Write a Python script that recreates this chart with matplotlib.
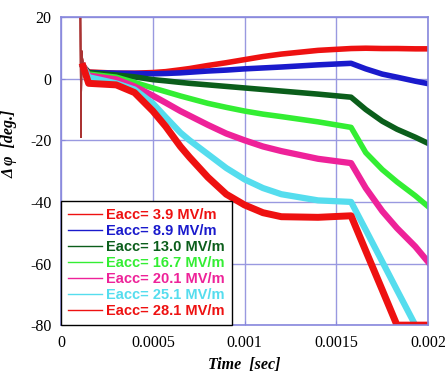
import matplotlib
matplotlib.use('Agg')
from matplotlib import pyplot as plt
import numpy as np

plt.rcParams['axes.unicode_minus'] = False

# time knots (sec)
t = [0.000105, 0.000108, 0.000112, 0.00012, 0.00015, 0.0003, 0.0004, 0.0005,
     0.00057, 0.00065, 0.0007, 0.0008, 0.0009, 0.001, 0.0011, 0.0012, 0.0014,
     0.00158, 0.00166, 0.00175, 0.00183, 0.00193, 0.002]

# phase shift (deg) for each Eacc
d_39 = [24, -19, 9, 4, 2.2, 1.8, 1.8, 2.0, 2.3, 2.9, 3.3, 4.3, 5.2, 6.2, 7.2, 8.0, 9.2,
        9.8, 9.9, 9.8, 9.8, 9.7, 9.7]
d_89 = [24, -19, 9, 4, 2.0, 1.8, 1.7, 1.6, 1.7, 1.9, 2.1, 2.5, 2.8, 3.2, 3.5, 3.8, 4.5,
        5.0, 3.2, 1.5, 0.5, -0.8, -1.6]
d_130 = [24, -19, 9, 4, 2.0, 1.2, 0.6, -0.3, -0.7, -1.2, -1.5, -2.0, -2.5, -3.0, -3.5, -4.0, -5.0,
         -6.0, -10, -13.8, -16.4, -19, -21]
d_167 = [24, -19, 9, 4, 1.5, 0.5, -1.2, -3.0, -4.2, -5.6, -6.4, -8.0, -9.3, -10.5, -11.5, -12.3, -14,
         -15.8, -24, -29.5, -33.5, -38, -41.5]
d_201 = [24, -19, 9, 4, 1.0, -0.2, -2.5, -5.5, -7.8, -10.5, -12.0, -15, -17.8, -20, -22, -23.5, -26,
         -27.4, -35.5, -43, -48.5, -54.5, -59.5]
d_251 = [24, -19, 9, 4, 0.5, -1.5, -3.5, -8.0, -12.5, -17.5, -20, -24.5, -29, -32.7, -35.5, -37.5, -39.5,
         -40, -49.1, -59.4, -68.6, -80, np.nan]
d_281 = [24, -19, 9, 4, -1.5, -2.0, -4.5, -10.5, -15.5, -22, -25.5, -32, -37.5, -41, -43.5, -44.8, -45,
         -44.5, -55.9, -68.6, -80, -80, -80]

labels = ['Eacc= 3.9 MV/m', 'Eacc= 8.9 MV/m', 'Eacc= 13.0 MV/m', 'Eacc= 16.7 MV/m',
          'Eacc= 20.1 MV/m', 'Eacc= 25.1 MV/m', 'Eacc= 28.1 MV/m']
colors = ['#ee1111', '#1a1acc', '#0b5e1b', '#33ee33', '#ee2299', '#55ddee', '#ee1111']
series = [d_39, d_89, d_130, d_167, d_201, d_251, d_281]
widths = [4, 4, 4, 4, 4.5, 4.5, 5]

xticks = [0, 0.0005, 0.001, 0.0015, 0.002]
xticklabels = ['0', '0.0005', '0.001', '0.0015', '0.002']
yticks = [-80, -60, -40, -20, 0, 20]

fig = plt.figure(figsize=(4.46, 3.72), dpi=100)
ax = fig.add_axes([0.137, 0.126, 0.823, 0.828])

for d, c, lw, lab in zip(series, colors, widths, labels):
    # thin spike at the start, thick noisy band afterwards
    ax.plot(t[:4], d[:4], color='#aa3333', lw=1)
    ax.plot(t[3:], d[3:], color=c, lw=lw, label=lab, solid_joinstyle='round')

ax.set_xlim(0, 0.002)
ax.set_ylim(-80, 20)
ax.set_xticks(xticks)
ax.set_xticklabels(xticklabels)
ax.set_yticks(yticks)
ax.grid(True, color='#9999e0', lw=1)
ax.set_axisbelow(True)
for s in ax.spines.values():
    s.set_color('#8888dd')
    s.set_linewidth(1.2)
ax.tick_params(direction='in', length=3, color='#8888dd', pad=7)
for tl in ax.get_xticklabels() + ax.get_yticklabels():
    tl.set_family('Liberation Serif')
    tl.set_fontsize(11.5)

ax.set_xlabel('Time  [sec]', family='Liberation Serif', style='italic',
              weight='bold', fontsize=11.5)
ax.xaxis.set_label_coords(0.5, -0.105)
ax.set_ylabel('\u0394 \u03c6  [deg.]', family='Liberation Serif', style='italic',
              weight='bold', fontsize=11.5)
ax.yaxis.set_label_coords(-0.12, 0.59)

leg = ax.legend(loc='lower left', bbox_to_anchor=(0, 0), borderaxespad=0,
                fancybox=False, edgecolor='black', framealpha=1,
                prop={'family': 'Liberation Sans', 'weight': 'bold', 'size': 10.5},
                handlelength=2.3, handletextpad=0.3, labelspacing=0.13, borderpad=0.5)
leg.get_frame().set_linewidth(1)
for line, txt, c in zip(leg.get_lines(), leg.get_texts(), colors):
    line.set_linewidth(1)
    txt.set_color(c)

plt.savefig('out.png')
